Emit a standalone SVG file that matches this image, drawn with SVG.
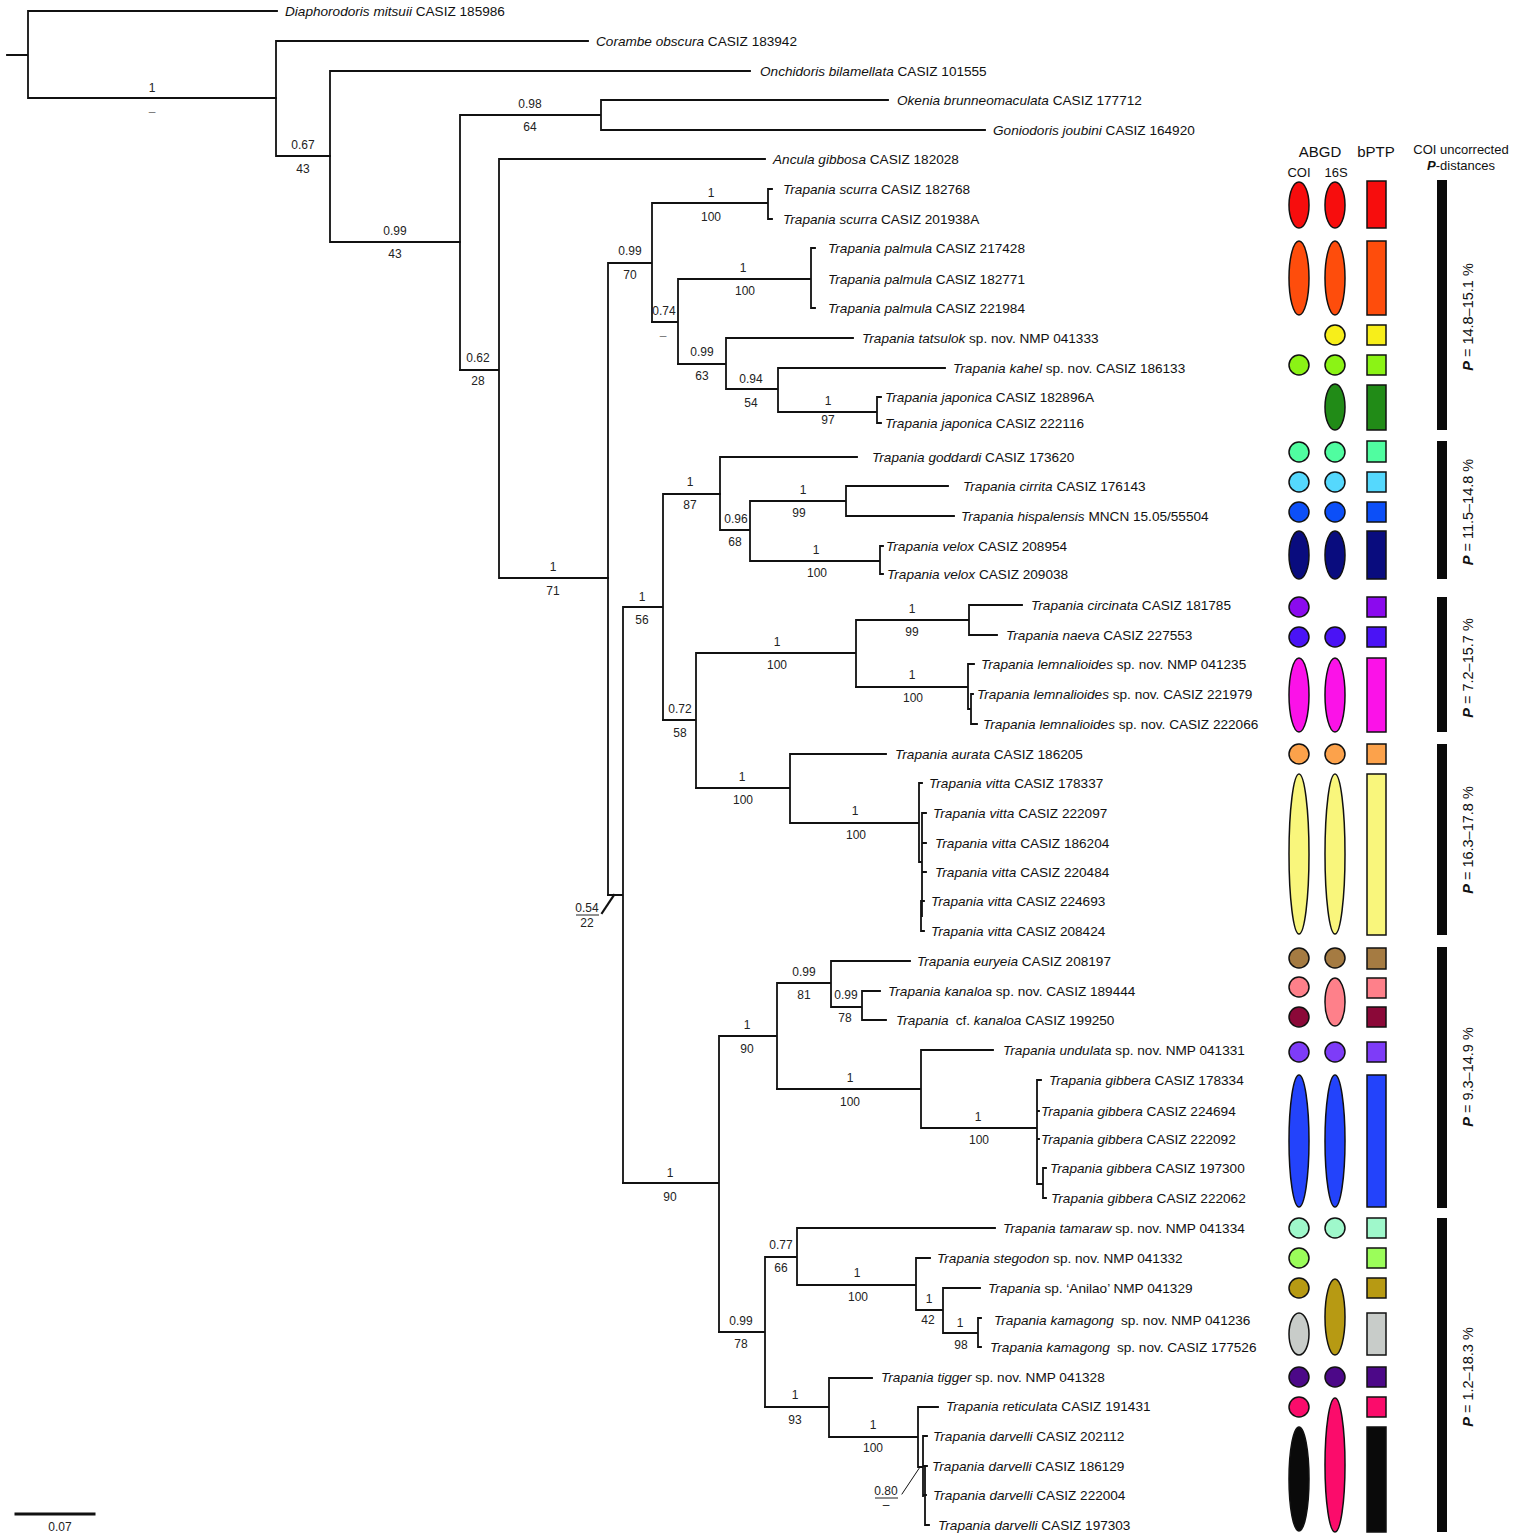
<svg xmlns="http://www.w3.org/2000/svg" width="1516" height="1539" viewBox="0 0 1516 1539">
<style>
.br{fill:none;stroke:#111;stroke-width:1.8;stroke-linecap:square}
.tip{font-family:"Liberation Sans",Arial,sans-serif;font-size:13.6px;fill:#111}
.i{font-style:italic}
.s{font-family:"Liberation Sans",Arial,sans-serif;font-size:12px;fill:#222;text-anchor:middle}
.d{fill:#777}
.hd{font-family:"Liberation Sans",Arial,sans-serif;fill:#111;text-anchor:middle}
.p{stroke:#111;stroke-width:1.5}
.bar{fill:#0a0a0a}
.pl{font-family:"Liberation Sans",Arial,sans-serif;font-size:14.5px;fill:#111;text-anchor:middle}
</style>
<rect width="1516" height="1539" fill="#fff"/>

<g id="connectors" class="br">
<path d="M7,55 H28 M28,11 V98 M28,11 H277 M28,98 H276"/>
<path d="M276,41 V156 M276,41 H588 M276,156 H330"/>
<path d="M330,71 V242 M330,71 H750 M330,242 H460"/>
<path d="M460,115 V370 M460,115 H601 M601,100 V130 M601,100 H888 M601,130 H985"/>
<path d="M460,370 H499 M499,159 V578 M499,159 H765 M499,578 H608"/>
<path d="M608,263 V895 M608,263 H652 M652,203 V322 M652,203 H768 M768,189 V219 M768,189 H772 M768,219 H772"/>
<path d="M652,322 H678 M678,279 V364 M678,279 H811 M811,248 V308 M811,248 H815 M811,308 H815"/>
<path d="M678,364 H726 M726,338 V389 M726,338 H853 M726,389 H778 M778,368 V412 M778,368 H945 M778,412 H877 M877,397 V423 M877,397 H881 M877,423 H881"/>
<path d="M608,895 H623 M623,607 V1183 M623,607 H663 M663,494 V720 M663,494 H720"/>
<path d="M720,457 V530 M720,457 H857 M720,530 H750 M750,501 V561 M750,501 H846 M846,486 V516 M846,486 H948 M846,516 H954 M750,561 H880 M880,546 V574 M880,546 H883 M880,574 H883"/>
<path d="M663,720 H696 M696,653 V788 M696,653 H856 M856,620 V687 M856,620 H969 M969,605 V635 M969,605 H1022 M969,635 H997"/>
<path d="M856,687 H968 M968,664 V709 H971 M968,664 H974 M971,694 V724 M971,694 H973 M971,724 H977"/>
<path d="M696,788 H790 M790,754 V823 M790,754 H886 M790,823 H919 M919,783 V862 H922 M919,783 H922 M922,813 V916 M922,813 H926 M922,843 H926 M922,872 H926 M922,916 H921 M921,901 V931 M921,901 H924 M921,931 H924"/>
<path d="M623,1183 H719 M719,1036 V1332 M719,1036 H777 M777,983 V1089 M777,983 H831 M831,961 V1007 M831,961 H910 M831,1007 H862 M862,991 V1020 M862,991 H880 M862,1020 H886"/>
<path d="M777,1089 H921 M921,1050 V1128 M921,1050 H993 M921,1128 H1037 M1037,1080 V1184 M1037,1080 H1041 M1037,1111 H1039 M1037,1139 H1039 M1037,1184 H1043 M1043,1168 V1198 M1043,1168 H1046 M1043,1198 H1046"/>
<path d="M719,1332 H765 M765,1257 V1407 M765,1257 H797 M797,1228 V1285 M797,1228 H995 M797,1285 H916 M916,1258 V1310 M916,1258 H930 M916,1310 H943 M943,1288 V1333 M943,1288 H980 M943,1333 H978 M978,1318 V1347 M978,1318 H981 M978,1347 H981"/>
<path d="M765,1407 H829 M829,1378 V1437 M829,1378 H872 M829,1437 H918 M918,1407 V1467 M918,1407 H938 M918,1467 H923 M923,1436 V1496 M923,1436 H927 M923,1466 H927 M923,1495 H926 M925,1466 V1525 M925,1525 H929"/>
<path d="M602,913 L614,895" stroke-width="2.2"/>
<path d="M902,1494 L920,1467" stroke-width="1"/>
<path d="M16,1514 H94" stroke-width="3"/>
</g>

<g id="tips" class="tip">
<g id="t1"><text x="285" y="16"><tspan class="i">Diaphorodoris mitsuii</tspan> CASIZ 185986</text></g>
<g id="t2"><text x="596" y="46"><tspan class="i">Corambe obscura</tspan> CASIZ 183942</text></g>
<g id="t3"><text x="760" y="76"><tspan class="i">Onchidoris bilamellata</tspan> CASIZ 101555</text></g>
<g id="t4"><text x="897" y="105"><tspan class="i">Okenia brunneomaculata</tspan> CASIZ 177712</text></g>
<g id="t5"><text x="993" y="135"><tspan class="i">Goniodoris joubini</tspan> CASIZ 164920</text></g>
<g id="t6"><text x="773" y="164"><tspan class="i">Ancula gibbosa</tspan> CASIZ 182028</text></g>
<g id="t7"><text x="783" y="194"><tspan class="i">Trapania scurra</tspan> CASIZ 182768</text></g>
<g id="t8"><text x="783" y="224"><tspan class="i">Trapania scurra</tspan> CASIZ 201938A</text></g>
<g id="t9"><text x="828" y="253"><tspan class="i">Trapania palmula</tspan> CASIZ 217428</text></g>
<g id="t10"><text x="828" y="284"><tspan class="i">Trapania palmula</tspan> CASIZ 182771</text></g>
<g id="t11"><text x="828" y="313"><tspan class="i">Trapania palmula</tspan> CASIZ 221984</text></g>
<g id="t12"><text x="862" y="343"><tspan class="i">Trapania tatsulok</tspan> sp. nov. NMP 041333</text></g>
<g id="t13"><text x="953" y="373"><tspan class="i">Trapania kahel</tspan> sp. nov. CASIZ 186133</text></g>
<g id="t14"><text x="885" y="402"><tspan class="i">Trapania japonica</tspan> CASIZ 182896A</text></g>
<g id="t15"><text x="885" y="428"><tspan class="i">Trapania japonica</tspan> CASIZ 222116</text></g>
<g id="t16"><text x="872" y="462"><tspan class="i">Trapania goddardi</tspan> CASIZ 173620</text></g>
<g id="t17"><text x="963" y="491"><tspan class="i">Trapania cirrita</tspan> CASIZ 176143</text></g>
<g id="t18"><text x="961" y="521"><tspan class="i">Trapania hispalensis</tspan> MNCN 15.05/55504</text></g>
<g id="t19"><text x="886" y="551"><tspan class="i">Trapania velox</tspan> CASIZ 208954</text></g>
<g id="t20"><text x="887" y="579"><tspan class="i">Trapania velox</tspan> CASIZ 209038</text></g>
<g id="t21"><text x="1031" y="610"><tspan class="i">Trapania circinata</tspan> CASIZ 181785</text></g>
<g id="t22"><text x="1006" y="640"><tspan class="i">Trapania naeva</tspan> CASIZ 227553</text></g>
<g id="t23"><text x="981" y="669"><tspan class="i">Trapania lemnalioides</tspan> sp. nov. NMP 041235</text></g>
<g id="t24"><text x="977" y="699"><tspan class="i">Trapania lemnalioides</tspan> sp. nov. CASIZ 221979</text></g>
<g id="t25"><text x="983" y="729"><tspan class="i">Trapania lemnalioides</tspan> sp. nov. CASIZ 222066</text></g>
<g id="t26"><text x="895" y="759"><tspan class="i">Trapania aurata</tspan> CASIZ 186205</text></g>
<g id="t27"><text x="929" y="788"><tspan class="i">Trapania vitta</tspan> CASIZ 178337</text></g>
<g id="t28"><text x="933" y="818"><tspan class="i">Trapania vitta</tspan> CASIZ 222097</text></g>
<g id="t29"><text x="935" y="848"><tspan class="i">Trapania vitta</tspan> CASIZ 186204</text></g>
<g id="t30"><text x="935" y="877"><tspan class="i">Trapania vitta</tspan> CASIZ 220484</text></g>
<g id="t31"><text x="931" y="906"><tspan class="i">Trapania vitta</tspan> CASIZ 224693</text></g>
<g id="t32"><text x="931" y="936"><tspan class="i">Trapania vitta</tspan> CASIZ 208424</text></g>
<g id="t33"><text x="917" y="966"><tspan class="i">Trapania euryeia</tspan> CASIZ 208197</text></g>
<g id="t34"><text x="888" y="996"><tspan class="i">Trapania kanaloa</tspan> sp. nov. CASIZ 189444</text></g>
<g id="t35"><text x="896" y="1025"><tspan class="i">Trapania</tspan><tspan dx="7">cf.</tspan> <tspan class="i">kanaloa</tspan> CASIZ 199250</text></g>
<g id="t36"><text x="1003" y="1055"><tspan class="i">Trapania undulata</tspan> sp. nov. NMP 041331</text></g>
<g id="t37"><text x="1049" y="1085"><tspan class="i">Trapania gibbera</tspan> CASIZ 178334</text></g>
<g id="t38"><text x="1041" y="1116"><tspan class="i">Trapania gibbera</tspan> CASIZ 224694</text></g>
<g id="t39"><text x="1041" y="1144"><tspan class="i">Trapania gibbera</tspan> CASIZ 222092</text></g>
<g id="t40"><text x="1050" y="1173"><tspan class="i">Trapania gibbera</tspan> CASIZ 197300</text></g>
<g id="t41"><text x="1051" y="1203"><tspan class="i">Trapania gibbera</tspan> CASIZ 222062</text></g>
<g id="t42"><text x="1003" y="1233"><tspan class="i">Trapania tamaraw</tspan> sp. nov. NMP 041334</text></g>
<g id="t43"><text x="937" y="1263"><tspan class="i">Trapania stegodon</tspan> sp. nov. NMP 041332</text></g>
<g id="t44"><text x="988" y="1293"><tspan class="i">Trapania</tspan> sp. ‘Anilao’ NMP 041329</text></g>
<g id="t45"><text x="994" y="1325"><tspan class="i">Trapania kamagong</tspan><tspan dx="7">sp. nov. NMP 041236</tspan></text></g>
<g id="t46"><text x="990" y="1352"><tspan class="i">Trapania kamagong</tspan><tspan dx="7">sp. nov. CASIZ 177526</tspan></text></g>
<g id="t47"><text x="881" y="1382"><tspan class="i">Trapania tigger</tspan> sp. nov. NMP 041328</text></g>
<g id="t48"><text x="946" y="1411"><tspan class="i">Trapania reticulata</tspan> CASIZ 191431</text></g>
<g id="t49"><text x="933" y="1441"><tspan class="i">Trapania darvelli</tspan> CASIZ 202112</text></g>
<g id="t50"><text x="932" y="1471"><tspan class="i">Trapania darvelli</tspan> CASIZ 186129</text></g>
<g id="t51"><text x="933" y="1500"><tspan class="i">Trapania darvelli</tspan> CASIZ 222004</text></g>
<g id="t52"><text x="938" y="1530"><tspan class="i">Trapania darvelli</tspan> CASIZ 197303</text></g>
</g>

<g id="support" class="s">
<text x="152" y="92">1</text><text x="152" y="116" class="d">–</text>
<text x="303" y="149">0.67</text><text x="303" y="173">43</text>
<text x="395" y="235">0.99</text><text x="395" y="258">43</text>
<text x="530" y="108">0.98</text><text x="530" y="131">64</text>
<text x="478" y="362">0.62</text><text x="478" y="385">28</text>
<text x="553" y="571">1</text><text x="553" y="595">71</text>
<text x="630" y="255">0.99</text><text x="630" y="279">70</text>
<text x="711" y="197">1</text><text x="711" y="221">100</text>
<text x="664" y="315">0.74</text><text x="663" y="340" class="d">–</text>
<text x="743" y="272">1</text><text x="745" y="295">100</text>
<text x="702" y="356">0.99</text><text x="702" y="380">63</text>
<text x="751" y="383">0.94</text><text x="751" y="407">54</text>
<text x="828" y="405">1</text><text x="828" y="424">97</text>
<text x="642" y="601">1</text><text x="642" y="624">56</text>
<text x="690" y="486">1</text><text x="690" y="509">87</text>
<text x="736" y="523">0.96</text><text x="735" y="546">68</text>
<text x="803" y="494">1</text><text x="799" y="517">99</text>
<text x="816" y="554">1</text><text x="817" y="577">100</text>
<text x="680" y="713">0.72</text><text x="680" y="737">58</text>
<text x="777" y="646">1</text><text x="777" y="669">100</text>
<text x="912" y="613">1</text><text x="912" y="636">99</text>
<text x="912" y="679">1</text><text x="913" y="702">100</text>
<text x="742" y="781">1</text><text x="743" y="804">100</text>
<text x="855" y="815">1</text><text x="856" y="839">100</text>
<text x="587" y="912">0.54</text><text x="587" y="927">22</text>
<text x="670" y="1177">1</text><text x="670" y="1201">90</text>
<text x="747" y="1029">1</text><text x="747" y="1053">90</text>
<text x="804" y="976">0.99</text><text x="804" y="999">81</text>
<text x="846" y="999">0.99</text><text x="845" y="1022">78</text>
<text x="850" y="1082">1</text><text x="850" y="1106">100</text>
<text x="978" y="1121">1</text><text x="979" y="1144">100</text>
<text x="741" y="1325">0.99</text><text x="741" y="1348">78</text>
<text x="781" y="1249">0.77</text><text x="781" y="1272">66</text>
<text x="857" y="1277">1</text><text x="858" y="1301">100</text>
<text x="929" y="1303">1</text><text x="928" y="1324">42</text>
<text x="960" y="1327">1</text><text x="961" y="1349">98</text>
<text x="795" y="1399">1</text><text x="795" y="1424">93</text>
<text x="873" y="1429">1</text><text x="873" y="1452">100</text>
<text x="886" y="1495">0.80</text><text x="886" y="1509">–</text>
<text x="60" y="1531">0.07</text>
</g>
<g id="underlines" stroke="#222" stroke-width="1">
<path d="M576,915 H599 M875,1498 H898"/>
</g>

<g id="header">
<text class="hd" x="1320" y="157" font-size="15">ABGD</text>
<text class="hd" x="1376" y="157" font-size="15">bPTP</text>
<text class="hd" x="1299" y="177" font-size="13">COI</text>
<text class="hd" x="1336" y="177" font-size="13">16S</text>
<text class="hd" x="1461" y="154" font-size="13">COI uncorrected</text>
<text class="hd" x="1461" y="170" font-size="13"><tspan font-weight="bold" font-style="italic">P</tspan>-distances</text>
</g>

<g id="partitions" class="p">
<g id="r-scurra" fill="#f70d0d"><ellipse cx="1299" cy="205" rx="10" ry="23"/><ellipse cx="1335" cy="205" rx="10" ry="23"/><rect x="1367" y="181" width="19" height="47"/></g>
<g id="r-palmula" fill="#fe4d0c"><ellipse cx="1299" cy="278" rx="10" ry="37"/><ellipse cx="1335" cy="278" rx="10" ry="37"/><rect x="1367" y="241" width="19" height="74"/></g>
<g id="r-tatsulok" fill="#f7ee1a"><circle cx="1335" cy="335" r="10"/><rect x="1367" y="325" width="19" height="20"/></g>
<g id="r-kahel" fill="#8bf315"><circle cx="1299" cy="365" r="10"/><circle cx="1335" cy="365" r="10"/><rect x="1367" y="355" width="19" height="20"/></g>
<g id="r-japonica" fill="#218b17"><ellipse cx="1335" cy="407" rx="10" ry="23"/><rect x="1367" y="385" width="19" height="45"/></g>
<g id="r-goddardi" fill="#50fda0"><circle cx="1299" cy="452" r="10"/><circle cx="1335" cy="452" r="10"/><rect x="1367" y="441" width="19" height="21"/></g>
<g id="r-cirrita" fill="#55d8fd"><circle cx="1299" cy="482" r="10"/><circle cx="1335" cy="482" r="10"/><rect x="1367" y="472" width="19" height="20"/></g>
<g id="r-hispalensis" fill="#0c4ff8"><circle cx="1299" cy="512" r="10"/><circle cx="1335" cy="512" r="10"/><rect x="1367" y="502" width="19" height="20"/></g>
<g id="r-velox" fill="#090c7e"><ellipse cx="1299" cy="555" rx="10" ry="24"/><ellipse cx="1335" cy="555" rx="10" ry="24"/><rect x="1367" y="531" width="19" height="48"/></g>
<g id="r-circinata" fill="#8b0aee"><circle cx="1299" cy="607" r="10"/><rect x="1367" y="597" width="19" height="20"/></g>
<g id="r-naeva" fill="#4a13f5"><circle cx="1299" cy="637" r="10"/><circle cx="1335" cy="637" r="10"/><rect x="1367" y="627" width="19" height="20"/></g>
<g id="r-lemnalioides" fill="#fb12e8"><ellipse cx="1299" cy="695" rx="10" ry="37"/><ellipse cx="1335" cy="695" rx="10" ry="37"/><rect x="1367" y="658" width="19" height="74"/></g>
<g id="r-aurata" fill="#fca24b"><circle cx="1299" cy="754" r="10"/><circle cx="1335" cy="754" r="10"/><rect x="1367" y="744" width="19" height="20"/></g>
<g id="r-vitta" fill="#f9f67c"><ellipse cx="1299" cy="854" rx="10" ry="80"/><ellipse cx="1335" cy="854" rx="10" ry="80"/><rect x="1367" y="774" width="19" height="161"/></g>
<g id="r-euryeia" fill="#a57b42"><circle cx="1299" cy="958" r="10"/><circle cx="1335" cy="958" r="10"/><rect x="1367" y="948" width="19" height="21"/></g>
<g id="r-kanaloa" fill="#fe808a"><circle cx="1299" cy="987" r="10"/><ellipse cx="1335" cy="1002" rx="10" ry="24"/><rect x="1367" y="978" width="19" height="20"/></g>
<g id="r-cfkanaloa" fill="#8b0838"><circle cx="1299" cy="1017" r="10"/><rect x="1367" y="1007" width="19" height="20"/></g>
<g id="r-undulata" fill="#7e3cf8"><circle cx="1299" cy="1052" r="10"/><circle cx="1335" cy="1052" r="10"/><rect x="1367" y="1042" width="19" height="20"/></g>
<g id="r-gibbera" fill="#2343fb"><ellipse cx="1299" cy="1141" rx="10" ry="66"/><ellipse cx="1335" cy="1141" rx="10" ry="66"/><rect x="1367" y="1075" width="19" height="132"/></g>
<g id="r-tamaraw" fill="#9ff8cb"><circle cx="1299" cy="1228" r="10"/><circle cx="1335" cy="1228" r="10"/><rect x="1367" y="1218" width="19" height="20"/></g>
<g id="r-stegodon" fill="#9bfd5a"><circle cx="1299" cy="1258" r="10"/><rect x="1367" y="1248" width="19" height="20"/></g>
<g id="r-anilao" fill="#b79a13"><circle cx="1299" cy="1288" r="10"/><ellipse cx="1335" cy="1317" rx="10" ry="38"/><rect x="1367" y="1278" width="19" height="20"/></g>
<g id="r-kamagong" fill="#c8ccc9"><ellipse cx="1299" cy="1334" rx="10" ry="21"/><rect x="1367" y="1313" width="19" height="42"/></g>
<g id="r-tigger" fill="#4c0888"><circle cx="1299" cy="1377" r="10"/><circle cx="1335" cy="1377" r="10"/><rect x="1367" y="1367" width="19" height="20"/></g>
<g id="r-reticulata" fill="#fb0c6b"><circle cx="1299" cy="1407" r="10"/><ellipse cx="1335" cy="1465" rx="10" ry="67"/><rect x="1367" y="1397" width="19" height="20"/></g>
<g id="r-darvelli" fill="#0a0a0a"><ellipse cx="1299" cy="1479" rx="10" ry="52"/><rect x="1367" y="1427" width="19" height="105"/></g>
</g>

<g id="pdist">
<rect class="bar" x="1437" y="180" width="10" height="250"/>
<rect class="bar" x="1437" y="441" width="10" height="138"/>
<rect class="bar" x="1437" y="597" width="10" height="135"/>
<rect class="bar" x="1437" y="744" width="10" height="191"/>
<rect class="bar" x="1437" y="947" width="10" height="261"/>
<rect class="bar" x="1437" y="1218" width="10" height="314"/>
<text class="pl" transform="translate(1473,317) rotate(-90)"><tspan font-weight="bold" font-style="italic">P</tspan> = 14.8–15.1 %</text>
<text class="pl" transform="translate(1473,512) rotate(-90)"><tspan font-weight="bold" font-style="italic">P</tspan> = 11.5–14.8 %</text>
<text class="pl" transform="translate(1473,668) rotate(-90)"><tspan font-weight="bold" font-style="italic">P</tspan> = 7.2–15.7 %</text>
<text class="pl" transform="translate(1473,840) rotate(-90)"><tspan font-weight="bold" font-style="italic">P</tspan> = 16.3–17.8 %</text>
<text class="pl" transform="translate(1473,1077) rotate(-90)"><tspan font-weight="bold" font-style="italic">P</tspan> = 9.3–14.9 %</text>
<text class="pl" transform="translate(1473,1377) rotate(-90)"><tspan font-weight="bold" font-style="italic">P</tspan> = 1.2–18.3 %</text>
</g>
</svg>
